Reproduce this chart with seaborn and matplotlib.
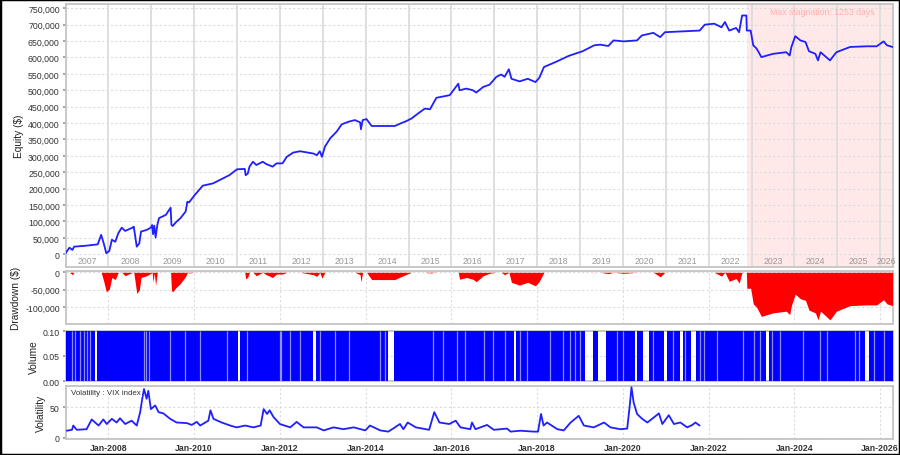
import numpy as np
import matplotlib
matplotlib.use('Agg')
import matplotlib.pyplot as plt
import matplotlib.ticker as mticker
import seaborn as sns

# equity curve (decimal year, thousands of $)
eq_year = [2007.00, 2007.09, 2007.16, 2007.20, 2007.48, 2007.75, 2007.83, 2007.89, 2007.95, 2008.02,
           2008.08, 2008.16, 2008.23, 2008.31, 2008.39, 2008.56, 2008.59, 2008.62, 2008.66, 2008.72,
           2008.76, 2008.89, 2008.99, 2009.02, 2009.04, 2009.07, 2009.10, 2009.14, 2009.18, 2009.34,
           2009.45, 2009.47, 2009.50, 2009.57, 2009.68, 2009.80, 2009.84, 2009.88, 2010.01, 2010.20,
           2010.44, 2010.59, 2010.82, 2011.00, 2011.18, 2011.20, 2011.25, 2011.29, 2011.37, 2011.45,
           2011.60, 2011.68, 2011.83, 2011.92, 2012.06, 2012.16, 2012.31, 2012.47, 2012.78, 2012.86,
           2012.93, 2012.98, 2013.05, 2013.17, 2013.33, 2013.44, 2013.60, 2013.75, 2013.87, 2013.89,
           2013.93, 2014.02, 2014.14, 2014.68, 2014.80, 2014.95, 2015.07, 2015.22, 2015.38, 2015.50,
           2015.65, 2015.96, 2016.16, 2016.19, 2016.35, 2016.50, 2016.58, 2016.74, 2016.89, 2017.05,
           2017.16, 2017.24, 2017.34, 2017.40, 2017.59, 2017.78, 2017.96, 2018.05, 2018.16, 2018.43,
           2018.74, 2019.06, 2019.33, 2019.47, 2019.66, 2019.78, 2020.02, 2020.33, 2020.44, 2020.71,
           2020.87, 2020.98, 2021.79, 2021.91, 2022.13, 2022.30, 2022.38, 2022.48, 2022.64, 2022.71,
           2022.78, 2022.88, 2022.89, 2022.98, 2023.04, 2023.12, 2023.23, 2023.50, 2023.81, 2023.89,
           2023.93, 2024.02, 2024.14, 2024.26, 2024.34, 2024.49, 2024.55, 2024.61, 2024.83, 2024.98,
           2025.30, 2025.69, 2025.92, 2026.08, 2026.16, 2026.29]
eq_value = [3, 20, 13, 23, 26, 30, 59, 33, 3, 10,
            44, 38, 64, 81, 71, 81, 84, 59, 23, 33,
            69, 74, 81, 89, 61, 87, 51, 89, 110, 120,
            142, 89, 86, 97, 110, 130, 160, 158, 180, 209,
            216, 226, 241, 259, 260, 241, 246, 267, 282, 272,
            282, 275, 267, 277, 277, 297, 310, 314, 307, 302,
            314, 297, 328, 353, 375, 396, 404, 409, 402, 381,
            409, 412, 391, 391, 398, 406, 414, 429, 444, 442,
            477, 485, 520, 500, 505, 500, 493, 510, 517, 541,
            548, 541, 564, 535, 527, 535, 525, 538, 571, 586,
            605, 619, 637, 639, 635, 652, 649, 652, 667, 675,
            662, 677, 682, 700, 703, 692, 708, 682, 690, 677,
            728, 728, 682, 682, 637, 627, 601, 611, 616, 606,
            632, 665, 652, 647, 619, 611, 591, 616, 591, 616,
            632, 634, 634, 649, 637, 632]

# VIX index
vix_year = [2007.03, 2007.15, 2007.18, 2007.26, 2007.49, 2007.61, 2007.69, 2007.77, 2007.88, 2007.96,
            2008.08, 2008.19, 2008.27, 2008.39, 2008.54, 2008.66, 2008.74, 2008.80, 2008.83, 2008.89,
            2008.93, 2008.99, 2009.09, 2009.17, 2009.28, 2009.44, 2009.59, 2009.83, 2009.94, 2010.06,
            2010.14, 2010.33, 2010.38, 2010.45, 2010.64, 2010.84, 2010.99, 2011.19, 2011.38, 2011.55,
            2011.62, 2011.70, 2011.76, 2011.85, 2012.00, 2012.24, 2012.39, 2012.55, 2012.86, 2013.02,
            2013.25, 2013.48, 2013.72, 2013.99, 2014.10, 2014.34, 2014.53, 2014.80, 2014.88, 2014.98,
            2015.17, 2015.48, 2015.60, 2015.72, 2015.95, 2016.10, 2016.21, 2016.44, 2016.48, 2016.56,
            2016.83, 2016.99, 2017.30, 2017.38, 2017.61, 2017.92, 2018.02, 2018.09, 2018.15, 2018.23,
            2018.47, 2018.62, 2018.78, 2018.97, 2019.09, 2019.32, 2019.56, 2019.71, 2019.94, 2020.10,
            2020.16, 2020.20, 2020.25, 2020.33, 2020.45, 2020.57, 2020.68, 2020.84, 2020.92, 2021.07,
            2021.19, 2021.34, 2021.50, 2021.62, 2021.69, 2021.79]
vix_value = [11.5, 13, 20, 13, 14, 30, 25, 20, 30, 22.5,
             31, 25, 32, 22.5, 28, 20, 42, 69, 80, 64,
             77, 47, 53, 42, 40, 31, 25, 24, 21, 26,
             20, 28, 45, 31, 25, 20, 17, 20, 17, 20,
             47, 39, 45, 34, 22.5, 17, 26, 17, 17, 12,
             17, 14, 17, 12, 20, 12, 10, 22.5, 14, 25,
             17, 13, 42, 25, 22.5, 28, 17, 14, 25, 14,
             21, 13, 15, 10, 11.5, 10, 10, 39, 20, 25,
             14, 12, 25, 36, 20, 17, 25, 17, 14, 15,
             53, 83, 58, 39, 31, 25, 31, 40, 22.5, 37,
             22.5, 25, 17, 21, 25, 20]

# volume: full bars (0.1) with idle periods
vol_level = 0.1
vol_start, vol_end = 2007.01, 2026.29
vol_gaps = [(2007.69, 2007.74), (2011.03, 2011.08), (2012.78, 2012.83), (2014.53, 2014.66),
            (2017.45, 2017.51), (2019.12, 2019.31), (2019.41, 2019.61), (2020.29, 2020.34),
            (2020.48, 2020.60), (2020.95, 2021.03), (2021.34, 2021.40), (2021.59, 2021.71),
            (2023.34, 2023.40), (2025.65, 2025.75)]
vol_thin_gaps = [2007.15, 2007.22, 2007.34, 2007.42, 2007.51, 2007.57, 2008.82, 2008.87, 2008.95,
                 2009.44, 2009.79, 2010.14, 2010.76, 2011.23, 2011.99, 2012.03, 2012.24, 2012.47,
                 2012.94, 2013.29, 2013.60, 2014.34, 2014.45, 2015.58, 2015.81, 2016.13, 2016.32,
                 2016.75, 2016.98, 2017.25, 2017.60, 2017.76, 2018.30, 2018.61, 2018.77, 2018.89,
                 2019.00, 2019.86, 2020.01, 2020.71, 2021.18, 2021.45, 2021.80, 2021.88, 2022.19,
                 2022.81, 2023.05, 2023.20, 2023.48, 2023.67, 2024.21, 2024.60, 2024.76, 2025.42,
                 2025.50, 2025.85, 2026.08]

stagnation_start, stagnation_end = 2022.90, 2026.30
stagnation_days = 1253

XMIN, XMAX = 2007.01, 2026.30
BLUE = '#1f1fff'
GRID = '#dcdcdc'
EDGE = '#c4c4c4'
TXT = '#333333'

sns.set_theme(style='white')
plt.rcParams['font.family'] = ['Liberation Sans', 'DejaVu Sans']

W, H = 900, 456
fig = plt.figure(figsize=(W / 100, H / 100), dpi=100)


def add_panel(top, bottom):
    ax = fig.add_axes([66 / W, 1 - bottom / H, (893 - 66) / W, (bottom - top) / H])
    ax.set_xlim(XMIN, XMAX)
    for s in ax.spines.values():
        s.set_color(EDGE)
        s.set_linewidth(1.3)
    ax.tick_params(axis='y', labelsize=6.3, labelcolor=TXT, length=2.5, color='#999999', pad=2, left=True)
    ax.tick_params(axis='x', labelsize=6.3, labelcolor=TXT, length=0, pad=3)
    return ax


thousands = mticker.FuncFormatter(lambda v, p: f'{v:,.0f}')
even_years = np.arange(2008, 2027, 2)

# ---- equity panel ----
ax1 = add_panel(5, 268)
eq = np.array(eq_value) * 1000
ax1.axvspan(stagnation_start, stagnation_end, color='#ffe8e8', zorder=0, lw=0)
for y in range(2008, 2027):
    ax1.axvline(y, color=GRID, lw=1.3, zorder=1)
sns.lineplot(x=eq_year, y=eq, ax=ax1, color=BLUE, lw=1.3, zorder=3)
ax1.set_ylim(-39000, 763000)
ax1.set_yticks(np.arange(0, 750001, 50000))
ax1.yaxis.set_major_formatter(thousands)
ax1.grid(axis='y', ls=(0, (2, 2)), color=GRID, lw=0.8)
ax1.set_xticks([])
ax1.set_ylabel('Equity ($)', fontsize=7.3, color='#222222', labelpad=3)
for y in range(2007, 2027):
    c = (max(y, XMIN) + min(y + 1, XMAX)) / 2
    ax1.text(c, 0.024, str(y), transform=ax1.get_xaxis_transform(), ha='center', va='center',
             fontsize=6.3, color='#999999')
ax1.text((stagnation_start + stagnation_end) / 2 + 0.05, 0.973, f'Max stagnation: {stagnation_days} days',
         transform=ax1.get_xaxis_transform(), ha='center', va='center', fontsize=6.3, color='#ffb0b0')

# ---- drawdown panel ----
ax2 = add_panel(272, 325)
dd = eq - np.maximum.accumulate(eq)
ax2.fill_between(eq_year, dd, 0, color='#ff0000', lw=0, zorder=3)
ax2.set_ylim(-149000, 3700)
ax2.set_yticks([0, -50000, -100000])
ax2.yaxis.set_major_formatter(thousands)
ax2.set_xticks(even_years)
ax2.set_xticklabels([])
ax2.grid(True, ls=(0, (2, 2)), color=GRID, lw=0.8)
ax2.set_ylabel('Drawdown ($)', fontsize=7.3, color='#222222', labelpad=3)

# ---- volume panel ----
ax3 = add_panel(332, 382)
t = [vol_start]
v = [vol_level]
for a, b in vol_gaps:
    t += [a, b]
    v += [0, vol_level]
t.append(vol_end)
v.append(vol_level)
ax3.fill_between(t, v, 0, step='post', color='#0000ff', lw=0, zorder=3)
ax3.vlines(vol_thin_gaps, 0, vol_level, color='white', alpha=0.55, lw=0.9, zorder=4)
ax3.set_ylim(0, 0.1)
ax3.set_yticks([0, 0.05, 0.1])
ax3.yaxis.set_major_formatter(mticker.FormatStrFormatter('%.2f'))
ax3.set_xticks(even_years)
ax3.set_xticklabels([])
ax3.grid(True, ls=(0, (2, 2)), color=GRID, lw=0.8)
ax3.set_ylabel('Volume', fontsize=7.3, color='#222222', labelpad=3)

# ---- volatility panel ----
ax4 = add_panel(387, 439.5)
sns.lineplot(x=vix_year, y=vix_value, ax=ax4, color=BLUE, lw=1.3, zorder=3)
ax4.set_ylim(-1.3, 85)
ax4.set_yticks([0, 50])
ax4.set_xticks(even_years)
ax4.set_xticklabels([f'Jan-{y}' for y in even_years], fontweight='bold')
ax4.grid(True, ls=(0, (2, 2)), color=GRID, lw=0.8)
ax4.set_ylabel('Volatility', fontsize=7.3, color='#222222', labelpad=3)
ax4.text(0.006, 0.88, 'Volatility : VIX index', transform=ax4.transAxes, fontsize=5.7, color=TXT,
         ha='left', va='center', zorder=6,
         bbox=dict(boxstyle='square,pad=0.15', fc='white', ec='none'))

fig.add_artist(plt.Rectangle((0, 0), 1, 1, transform=fig.transFigure, fill=False, ec='black', lw=2.5))

fig.savefig('out.png', dpi=100)
